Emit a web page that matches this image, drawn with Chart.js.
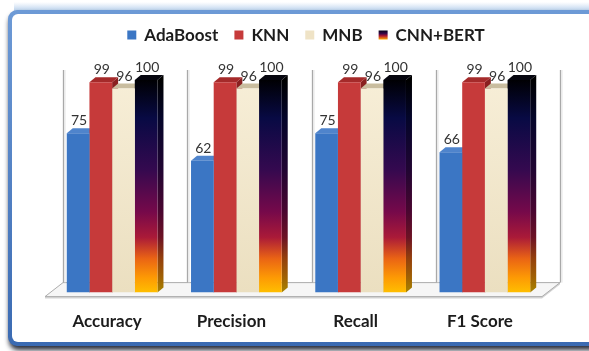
<!DOCTYPE html>
<html>
<head>
<meta charset="utf-8">
<script src="https://cdn.jsdelivr.net/npm/chart.js@4/dist/chart.umd.min.js"></script>
<style>
  html, body { margin: 0; padding: 0; background: #ffffff; overflow: hidden; }
  #wrap { position: relative; width: 589px; height: 351px; }
  canvas { display: block; }
</style>
</head>
<body>
<div id="wrap"><canvas id="chart" width="589" height="351"></canvas></div>
<script>
// Scores (%) of each classifier on each metric
const categories = ['Accuracy', 'Precision', 'Recall', 'F1 Score'];
const seriesNames = ['AdaBoost', 'KNN', 'MNB', 'CNN+BERT'];
const adaBoost = [75, 62, 75, 66];
const knn = [99, 99, 99, 99];
const mnb = [96, 96, 96, 96];
const cnnBert = [100, 100, 100, 100];
const yTicks = [0, 100];

// Face colours of the 3D columns: front, top, side
const palette = [
  { front: '#3b76c4', top: '#4f84cc', side: '#2b5898', key: '#3b76c4' },
  { front: '#c63a3a', top: '#a52a2a', side: '#8a2020', key: '#c63a3a' },
  { front: '#f3e7cb', top: '#c9bd9f', side: '#b5a886', key: '#efe3c6' },
  { front: null, top: '#06060f', side: null, key: null }
];

// Flame gradient of the CNN+BERT column (0 = top, 1 = floor)
const flameStops = [
  [0.00, '#000003'], [0.18, '#080a44'], [0.42, '#34094f'],
  [0.62, '#76094a'], [0.74, '#aa1a38'], [0.84, '#ea6414'],
  [0.93, '#fd9a04'], [1.00, '#ffbf00']
];
const flameSideStops = [
  [0.00, '#000000'], [0.18, '#04052a'], [0.42, '#200532'],
  [0.62, '#4a0630'], [0.74, '#6c1224'], [0.84, '#94400c'],
  [0.93, '#a06204'], [1.00, '#a88400']
];

const DEPTH = { dx: 6, dy: 5 };        // column depth
const WALL = { dx: 13, dy: -10 };      // back wall relative to column fronts
const FLOOR_FRONT = { dx: -5, dy: 4 }; // front edge of the floor
const FONT = 'Lato, "Open Sans", sans-serif';

function vGrad(ctx, y0, y1, stops) {
  const g = ctx.createLinearGradient(0, y0, 0, y1);
  stops.forEach(s => g.addColorStop(s[0], s[1]));
  return g;
}

function flameFill(context) {
  const chart = context.chart;
  const a = chart.chartArea;
  if (!a) return '#300840';
  return vGrad(chart.ctx, a.top, a.bottom, flameStops);
}

function mnbFill(context) {
  const chart = context.chart;
  const a = chart.chartArea;
  if (!a) return palette[2].front;
  return vGrad(chart.ctx, a.top, a.bottom, [[0, '#f7eed7'], [1, '#ebdfc0']]);
}

// Frame with rounded blue border and drop shadow
const framePlugin = {
  id: 'frame',
  beforeDraw(chart) {
    const ctx = chart.ctx;
    ctx.save();
    ctx.fillStyle = '#ffffff';
    ctx.fillRect(0, 0, chart.width, chart.height);
    const glow = ctx.createLinearGradient(0, 2, 0, 11);
    glow.addColorStop(0, 'rgba(170,200,235,0)');
    glow.addColorStop(1, 'rgba(150,185,225,0.7)');
    ctx.fillStyle = glow;
    ctx.fillRect(14, 2, chart.width, 9);

    const x = 8, y = 10, w = 610, h = 336, r = 9;
    ctx.shadowColor = 'rgba(20,25,40,0.9)';
    ctx.shadowBlur = 5;
    ctx.shadowOffsetX = 1;
    ctx.shadowOffsetY = 4;
    ctx.beginPath();
    ctx.roundRect(x, y, w, h, r);
    const border = ctx.createLinearGradient(0, y, 0, y + h);
    border.addColorStop(0, '#6d9ad6');
    border.addColorStop(1, '#3a6ab2');
    ctx.fillStyle = border;
    ctx.fill();
    ctx.shadowColor = 'transparent';
    ctx.beginPath();
    ctx.roundRect(x + 4, y + 4, w - 8, h - 8, r - 3);
    ctx.fillStyle = '#ffffff';
    ctx.fill();
    ctx.restore();
  }
};

// Floor, back wall dividers and the top/side faces of the columns
const depthPlugin = {
  id: 'depth3d',
  beforeDatasetsDraw(chart) {
    const ctx = chart.ctx;
    const a = chart.chartArea;
    const ys = chart.scales.y;
    const base = ys.getPixelForValue(0);
    const top = ys.getPixelForValue(100);
    ctx.save();

    // floor slab
    const fl = a.left + FLOOR_FRONT.dx, fr = a.right + FLOOR_FRONT.dx, fy = base + FLOOR_FRONT.dy;
    const bl = a.left + WALL.dx, br = a.right + WALL.dx, by = base + WALL.dy;
    ctx.beginPath();
    ctx.moveTo(fl, fy);
    ctx.lineTo(bl, by);
    ctx.lineTo(br, by);
    ctx.lineTo(fr, fy);
    ctx.closePath();
    ctx.fillStyle = '#f6f6f6';
    ctx.fill();
    ctx.fillStyle = '#d4d4d4';
    ctx.beginPath();
    ctx.moveTo(fl, fy);
    ctx.lineTo(fr, fy);
    ctx.lineTo(br, by);
    ctx.lineTo(br, by + 2);
    ctx.lineTo(fr, fy + 2);
    ctx.lineTo(fl, fy + 2);
    ctx.closePath();
    ctx.fill();
    ctx.strokeStyle = '#adadad';
    ctx.lineWidth = 1;
    ctx.beginPath();
    ctx.moveTo(fl, fy);
    ctx.lineTo(bl, by);
    ctx.lineTo(br, by);
    ctx.lineTo(fr, fy);
    ctx.closePath();
    ctx.stroke();

    // back wall dividers at the category boundaries
    const n = categories.length;
    const step = (a.right - a.left) / n;
    for (let i = 0; i <= n; i++) {
      const gx = Math.round(a.left + step * i + WALL.dx) + 0.5;
      ctx.strokeStyle = '#a9a9a9';
      ctx.lineWidth = 1.3;
      ctx.beginPath();
      ctx.moveTo(gx, top + WALL.dy);
      ctx.lineTo(gx, by);
      ctx.stroke();
      ctx.strokeStyle = 'rgba(225,225,225,0.9)';
      ctx.lineWidth = 1;
      ctx.beginPath();
      ctx.moveTo(gx + 1.5, top + WALL.dy);
      ctx.lineTo(gx + 1.5, by);
      ctx.stroke();
    }

    // top and side faces, left to right within each group
    const metas = chart.data.datasets.map((d, i) => chart.getDatasetMeta(i));
    for (let c = 0; c < n; c++) {
      metas.forEach((meta, si) => {
        const el = meta.data[c];
        const w = el.width;
        const l = el.x - w / 2, r = el.x + w / 2, yTop = el.y, yb = el.base;
        ctx.beginPath();
        ctx.moveTo(r, yTop);
        ctx.lineTo(r + DEPTH.dx, yTop - DEPTH.dy);
        ctx.lineTo(r + DEPTH.dx, yb - DEPTH.dy);
        ctx.lineTo(r, yb);
        ctx.closePath();
        ctx.fillStyle = palette[si].side || vGrad(ctx, a.top, a.bottom, flameSideStops);
        ctx.fill();
        ctx.beginPath();
        ctx.moveTo(l, yTop);
        ctx.lineTo(l + DEPTH.dx, yTop - DEPTH.dy);
        ctx.lineTo(r + DEPTH.dx, yTop - DEPTH.dy);
        ctx.lineTo(r, yTop);
        ctx.closePath();
        ctx.fillStyle = palette[si].top;
        ctx.fill();
      });
    }
    ctx.restore();
  },
  afterDatasetsDraw(chart) {
    // value labels above each column
    const ctx = chart.ctx;
    ctx.save();
    ctx.font = '14px ' + FONT;
    ctx.fillStyle = '#333333';
    ctx.textAlign = 'center';
    ctx.textBaseline = 'middle';
    chart.data.datasets.forEach((ds, si) => {
      chart.getDatasetMeta(si).data.forEach((el, i) => {
        ctx.fillText(String(ds.data[i]), el.x + 1, el.y - 12.5);
      });
    });
    ctx.restore();
  },
  afterDraw(chart) {
    // legend row
    const ctx = chart.ctx;
    ctx.save();
    ctx.font = 'bold 17px ' + FONT;
    ctx.textBaseline = 'middle';
    ctx.textAlign = 'left';
    const box = 9, gap = 8, pad = 16, cy = 35;
    const widths = chart.data.datasets.map(d => ctx.measureText(d.label).width);
    const total = widths.reduce((s, w) => s + box + gap + w, 0) + pad * (widths.length - 1);
    let x = 306 - total / 2;
    chart.data.datasets.forEach((d, si) => {
      const by = cy - box / 2;
      ctx.fillStyle = palette[si].key || vGrad(ctx, by, by + box, [[0, '#04041a'], [0.35, '#3a0848'], [0.6, '#b01830'], [1, '#ffaa00']]);
      ctx.fillRect(x, by, box, box);
      ctx.fillStyle = '#1c1c1c';
      ctx.fillText(d.label, x + box + gap, cy + 1);
      x += box + gap + widths[si] + pad;
    });
    ctx.restore();
  }
};

const chart = new Chart(document.getElementById('chart'), {
  type: 'bar',
  data: {
    labels: categories,
    datasets: [
      { label: seriesNames[0], data: adaBoost, backgroundColor: palette[0].front },
      { label: seriesNames[1], data: knn, backgroundColor: palette[1].front },
      { label: seriesNames[2], data: mnb, backgroundColor: mnbFill },
      { label: seriesNames[3], data: cnnBert, backgroundColor: flameFill }
    ]
  },
  options: {
    responsive: false,
    animation: false,
    devicePixelRatio: 1,
    layout: { padding: { left: 50, right: 42, top: 80, bottom: 0 } },
    datasets: {
      bar: { categoryPercentage: 0.73, barPercentage: 1, borderWidth: 0 }
    },
    plugins: {
      legend: { display: false },
      tooltip: { enabled: false }
    },
    scales: {
      x: {
        grid: { display: false, drawTicks: false },
        border: { display: false },
        ticks: {
          color: '#1c1c1c',
          font: { family: FONT, size: 17, weight: 'bold' },
          padding: 19,
          labelOffset: -5,
          autoSkip: false,
          maxRotation: 0
        }
      },
      y: {
        display: false,
        min: yTicks[0],
        max: yTicks[1]
      }
    }
  },
  plugins: [framePlugin, depthPlugin]
});
</script>
</body>
</html>
